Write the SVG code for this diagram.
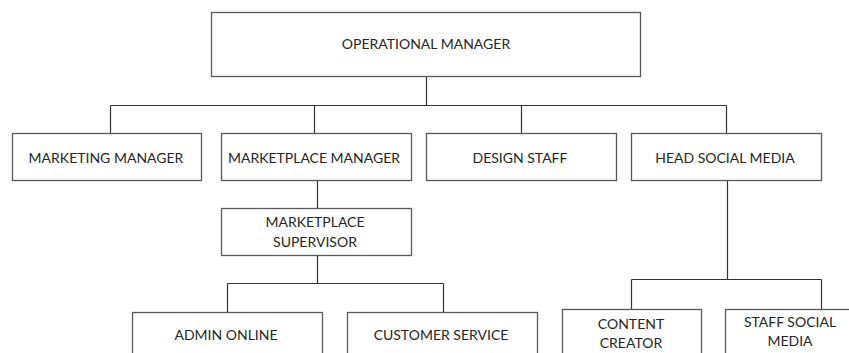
<svg xmlns="http://www.w3.org/2000/svg" width="849" height="353" viewBox="0 0 849 353">
<style>
.box{fill:#fff;stroke:#595959;stroke-width:1.3}
.t{font-family:Lato,"Open Sans","Liberation Sans",sans-serif;font-size:14px;fill:#262626;text-anchor:middle}
.c{fill:none;stroke:#333;stroke-width:1.2}
</style>
<rect width="849" height="353" fill="#fff"/>
<g id="connectors">
<path class="c" d="M426.5 76V105.5M110.5 105.5H726.5M110.5 105.5V133M314.5 105.5V133M521.5 105.5V133M726.5 105.5V133"/>
<path class="c" d="M317.5 180V208M317.5 255V283.5M227.5 283.5H443.5M227.5 283.5V312M443.5 283.5V312"/>
<path class="c" d="M727.5 180V279.5M631.5 279.5H821.5M631.5 279.5V309M821.5 279.5V309"/>
</g>
<g id="n-operational"><rect class="box" x="211.5" y="12.5" width="429" height="64"/><text class="t" x="426" y="49">OPERATIONAL MANAGER</text></g>
<g id="n-marketing"><rect class="box" x="12.5" y="133.5" width="189" height="47"/><text class="t" x="106" y="163">MARKETING MANAGER</text></g>
<g id="n-marketplace"><rect class="box" x="221.5" y="133.5" width="190" height="47"/><text class="t" x="314" y="163">MARKETPLACE MANAGER</text></g>
<g id="n-design"><rect class="box" x="426.5" y="133.5" width="190" height="47"/><text class="t" x="520" y="163">DESIGN STAFF</text></g>
<g id="n-headsocial"><rect class="box" x="631.5" y="133.5" width="190" height="47"/><text class="t" x="725" y="163">HEAD SOCIAL MEDIA</text></g>
<g id="n-supervisor"><rect class="box" x="221.5" y="208.5" width="190" height="47"/><text class="t" x="315" y="227">MARKETPLACE</text><text class="t" x="315" y="247">SUPERVISOR</text></g>
<g id="n-admin"><rect class="box" x="132.5" y="312.5" width="190" height="60"/><text class="t" x="226" y="340">ADMIN ONLINE</text></g>
<g id="n-customer"><rect class="box" x="347.5" y="312.5" width="190" height="60"/><text class="t" x="441" y="340">CUSTOMER SERVICE</text></g>
<g id="n-content"><rect class="box" x="562.5" y="309.5" width="139" height="60"/><text class="t" x="631" y="329">CONTENT</text><text class="t" x="631" y="348">CREATOR</text></g>
<g id="n-staffsocial"><rect class="box" x="725.5" y="309.5" width="140" height="60"/><text class="t" x="790" y="327">STAFF SOCIAL</text><text class="t" x="790" y="346">MEDIA</text></g>
</svg>
